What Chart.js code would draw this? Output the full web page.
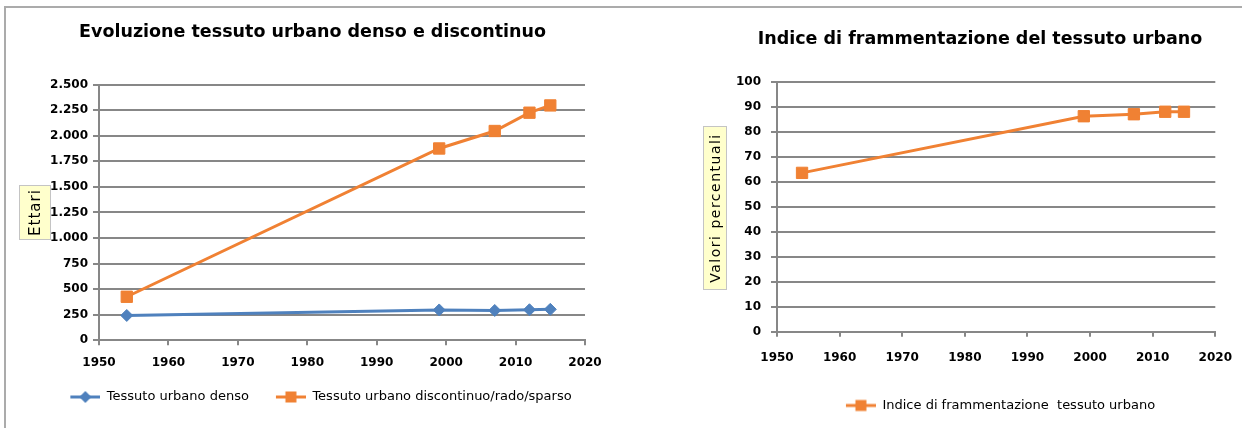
<!DOCTYPE html>
<html>
<head>
<meta charset="utf-8">
<script src="https://cdn.jsdelivr.net/npm/chart.js@4.4.0/dist/chart.umd.min.js"></script>
<style>
html, body { margin: 0; padding: 0; background: #fff; }
#wrap { position: relative; width: 1242px; height: 428px; overflow: hidden; }
#frame { position: absolute; left: 4px; top: 6px; width: 1300px; height: 500px;
         border-top: 2px solid #ababab; border-left: 2px solid #ababab; }
.box { position: absolute; top: 0; height: 428px; }
#leftBox { left: 0; width: 620px; }
#rightBox { left: 620px; width: 626px; }
</style>
</head>
<body>
<div id="wrap">
  <div id="frame"></div>
  <div class="box" id="leftBox"><canvas id="chartLeft" width="620" height="428"></canvas></div>
  <div class="box" id="rightBox"><canvas id="chartRight" width="626" height="428"></canvas></div>
</div>
<script>
// data
const years = [1954, 1999, 2007, 2012, 2015];
const densoValues = [242, 296, 291, 298, 302];
const discontinuoValues = [425, 1876, 2047, 2226, 2297];
const frammentazioneValues = [63.7, 86.4, 87.2, 88.2, 88.2];

const xRange = [1950, 2020, 10];
const ettariRange = [0, 2500, 250];
const percentRange = [0, 100, 10];

const BLUE = '#4f81bd';
const ORANGE = '#f08133';
const GRID = '#878787';
const TICK_FONT = { family: 'DejaVu Sans', size: 12, weight: 'bold' };
const TITLE_FONT = { family: 'DejaVu Sans', size: 17.5, weight: 'bold' };
const LEGEND_FONT = { family: 'DejaVu Sans', size: 13 };

function points(ys) {
    return years.map((x, i) => ({ x: x, y: ys[i] }));
}

function itNumber(v) {
    return String(v).replace(/\B(?=(\d{3})+(?!\d))/g, '.');
}

// excel-like legend key: short line with the marker in the middle
function legendIcon(color, style, totalWidth) {
    const c = document.createElement('canvas');
    c.width = totalWidth;
    c.height = 14;
    const g = c.getContext('2d');
    const x0 = totalWidth - 30;
    g.strokeStyle = color;
    g.lineWidth = 3;
    g.beginPath();
    g.moveTo(x0, 7);
    g.lineTo(totalWidth, 7);
    g.stroke();
    g.fillStyle = color;
    const cx = x0 + 15;
    if (style === 'rect') {
        g.fillRect(cx - 5.5, 1.5, 11, 11);
    } else {
        g.beginPath();
        g.moveTo(cx, 1); g.lineTo(cx + 6, 7); g.lineTo(cx, 13); g.lineTo(cx - 6, 7);
        g.closePath();
        g.fill();
    }
    return c;
}

// yellow boxed y axis title, drawn like the excel one
const axisBoxPlugin = {
    id: 'axisBox',
    afterDraw(chart, args, opts) {
        const ctx = chart.ctx;
        ctx.save();
        ctx.fillStyle = '#ffffcc';
        ctx.strokeStyle = '#c4c4c4';
        ctx.lineWidth = 1;
        ctx.fillRect(opts.cx - opts.w / 2, opts.cy - opts.h / 2, opts.w, opts.h);
        ctx.strokeRect(opts.cx - opts.w / 2 + 0.5, opts.cy - opts.h / 2 + 0.5, opts.w - 1, opts.h - 1);
        ctx.translate(opts.cx, opts.cy);
        ctx.rotate(-Math.PI / 2);
        ctx.fillStyle = '#000';
        ctx.font = opts.font;
        if ('letterSpacing' in ctx) ctx.letterSpacing = opts.spacing || '0px';
        ctx.textAlign = 'center';
        ctx.textBaseline = 'middle';
        ctx.fillText(opts.text, 0, 1);
        ctx.restore();
    }
};

function xScale(height, pad) {
    return {
        type: 'linear',
        min: xRange[0], max: xRange[1],
        afterFit(s) { s.height = height; },
        ticks: { stepSize: xRange[2], color: '#000', font: TICK_FONT, padding: pad,
                 callback: v => String(v), maxRotation: 0 },
        grid: { drawOnChartArea: false, drawTicks: true, tickLength: 5, color: GRID, lineWidth: 2 },
        border: { color: GRID, width: 2 }
    };
}

function yScale(range, width, pad, fmt) {
    return {
        min: range[0], max: range[1],
        afterFit(s) { s.width = width; },
        ticks: { stepSize: range[2], color: '#000', font: TICK_FONT, padding: pad, callback: fmt },
        grid: { color: GRID, lineWidth: 2, tickLength: 6 },
        border: { color: GRID, width: 2 }
    };
}

function series(label, ys, color, style, radius) {
    return {
        label: label,
        data: points(ys),
        borderColor: color,
        backgroundColor: color,
        borderWidth: 3,
        pointStyle: style,
        pointRadius: radius,
        pointBorderWidth: 1,
        pointBorderColor: color,
        pointBackgroundColor: color
    };
}

function legendOpts(iconWidth) {
    return {
        position: 'bottom',
        labels: {
            usePointStyle: true,
            pointStyleWidth: iconWidth,
            padding: 10,
            color: '#000',
            font: LEGEND_FONT,
            generateLabels(chart) {
                return chart.data.datasets.map((ds, i) => ({
                    text: ds.label,
                    pointStyle: legendIcon(ds.borderColor, ds.pointStyle, iconWidth),
                    fillStyle: ds.borderColor,
                    strokeStyle: ds.borderColor,
                    lineWidth: 0,
                    fontColor: '#000',
                    datasetIndex: i
                }));
            }
        }
    };
}

new Chart(document.getElementById('chartLeft'), {
    type: 'line',
    data: {
        datasets: [
            series('Tessuto urbano denso', densoValues, BLUE, 'rectRot', 6),
            series('Tessuto urbano discontinuo/rado/sparso', discontinuoValues, ORANGE, 'rect', 8)
        ]
    },
    options: {
        responsive: false,
        animation: false,
        layout: { padding: { left: 40, right: 35, top: 0, bottom: 14.5 } },
        scales: {
            x: xScale(40.3, 10),
            y: yScale(ettariRange, 59, 5, v => itNumber(v))
        },
        plugins: {
            title: { display: true, text: 'Evoluzione tessuto urbano denso e discontinuo',
                     color: '#000', font: TITLE_FONT, padding: { top: 21.5, bottom: 42.2 } },
            legend: legendOpts(47),
            tooltip: { enabled: false },
            axisBox: { text: 'Ettari', font: '15px "DejaVu Sans"', spacing: '1px',
                       cx: 35, cy: 212.5, w: 32, h: 55 }
        }
    },
    plugins: [axisBoxPlugin]
});

new Chart(document.getElementById('chartRight'), {
    type: 'line',
    data: {
        datasets: [
            series('Indice di frammentazione  tessuto urbano', frammentazioneValues, ORANGE, 'rect', 8)
        ]
    },
    options: {
        responsive: false,
        animation: false,
        layout: { padding: { left: 117, right: 23, top: 0, bottom: 6 } },
        scales: {
            x: xScale(57.2, 14),
            y: yScale(percentRange, 40, 10, v => String(v))
        },
        plugins: {
            title: { display: true, text: 'Indice di frammentazione del tessuto urbano',
                     color: '#000', font: TITLE_FONT, padding: { top: 29, bottom: 32.3 } },
            legend: legendOpts(71),
            tooltip: { enabled: false },
            axisBox: { text: 'Valori percentuali', font: '14px "DejaVu Sans"', spacing: '1.5px',
                       cx: 95, cy: 208, w: 24, h: 164 }
        }
    },
    plugins: [axisBoxPlugin]
});
</script>
</body>
</html>
